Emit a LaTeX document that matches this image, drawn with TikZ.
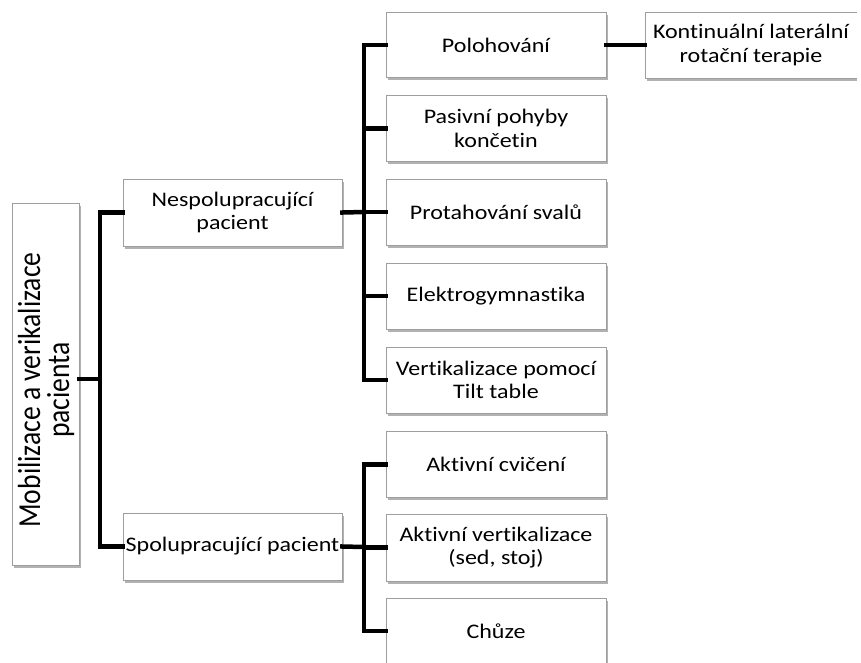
\documentclass[tikz,border=0pt]{standalone}
\usepackage{fontspec}
\setmainfont{Carlito}[Ligatures=NoCommon, FakeStretch=1.16]
\newfontfamily\rootfont{Carlito}[Ligatures=NoCommon, FakeStretch=0.862]
\usetikzlibrary{shadows}
\begin{document}
\begin{tikzpicture}[x=1pt,y=-1pt,
  box/.style={draw=black!38, line width=0.9pt, fill=white, align=center, inner sep=0pt,
    font=\fontsize{20.7}{23.5}\selectfont,
    drop shadow={shadow xshift=2pt, shadow yshift=-2.5pt, fill=black, opacity=0.3}},
  conn/.style={line width=4.5pt, line join=miter, line cap=rect}]
\useasboundingbox (0,0) rectangle (861,662);
\clip (0,0) rectangle (861,662);
\fill[white] (0,0) rectangle (861,662);
% root
\node[box, minimum width=67pt, minimum height=362pt] (root) at (45.5,384) {};
\node[rotate=90, align=center, inner sep=0pt, font=\rootfont\fontsize{32}{29}\selectfont] (roott) at (46,390) {Mobilizace a verikalizace\\pacienta};
% level 2
\node[box, minimum width=219pt, minimum height=67pt] (nes) at (232.5,212.5) {Nespolupracující\\pacient};
\node[box, minimum width=219pt, minimum height=67pt] (spo) at (232.5,546.5) {Spolupracující pacient};
% level 3
\node[box, minimum width=220pt, minimum height=65pt] (pol) at (496,45) {Polohování};
\node[box, minimum width=212pt, minimum height=66pt] (kon) at (751,45) {Kontinuální laterální\\rotační terapie};
\node[box, minimum width=220pt, minimum height=66pt] (pas) at (496,128.5) {Pasivní pohyby\\končetin};
\node[box, minimum width=220pt, minimum height=66pt] (pro) at (496,212) {Protahování svalů};
\node[box, minimum width=220pt, minimum height=66pt] (ele) at (496,296) {Elektrogymnastika};
\node[box, minimum width=220pt, minimum height=66pt] (ver) at (496,380) {Vertikalizace pomocí\\Tilt table};
\node[box, minimum width=220pt, minimum height=66pt] (akc) at (496,464.5) {Aktivní cvičení};
\node[box, minimum width=220pt, minimum height=67pt] (akv) at (496,547.5) {Aktivní vertikalizace\\(sed, stoj)};
\node[box, minimum width=220pt, minimum height=66pt] (chu) at (496,631) {Chůze};
% cover right border of kon box (it runs off the page in the reference)
\fill[white] (856.5,5) rectangle (861,90);
% bus coordinates
\coordinate (rj) at (100,379);
\coordinate (b2) at (364,212);
\coordinate (b3) at (364,547);
% connectors
\draw[conn] (root.east |- rj) -- (rj);
\draw[conn] (nes.west) -- (nes.west -| rj) -- (spo.west -| rj) -- (spo.west);
\draw[conn] (nes.east) -- (b2);
\draw[conn] (pol.west) -- (pol.west -| b2) -- (ver.west -| b2) -- (ver.west);
\draw[conn] (pas.west -| b2) -- (pas.west);
\draw[conn] (pro.west -| b2) -- (pro.west);
\draw[conn] (ele.west -| b2) -- (ele.west);
\draw[conn] (pol.east) -- (kon.west);
\draw[conn] (spo.east) -- (b3);
\draw[conn] (akc.west) -- (akc.west -| b3) -- (chu.west -| b3) -- (chu.west);
\draw[conn] (akv.west -| b3) -- (akv.west);
\end{tikzpicture}
\end{document}
